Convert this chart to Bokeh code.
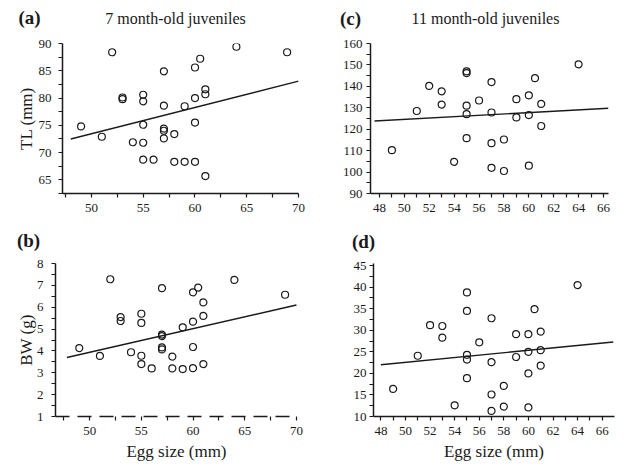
from bokeh.plotting import figure
from bokeh.layouts import row, column
from bokeh.models import FixedTicker, Label, Range1d
from bokeh.embed import file_html
from bokeh.resources import INLINE

FONT = "Liberation Serif"
INK = "#1a1a1a"

# ---------------- data ----------------
# (a) 7 month-old juveniles, total length
egg_a = [49, 51, 52, 53, 53, 54, 55, 55, 55, 55, 55, 56, 57, 57, 57, 57, 57,
         58, 58, 59, 59, 60, 60, 60, 60, 60.5, 61, 61, 61, 64, 68.9]
tl_a = [74.8, 72.9, 88.4, 80.1, 79.8, 71.9, 80.6, 79.4, 75.1, 71.8, 68.7, 68.7,
        84.9, 78.6, 74.4, 74.0, 72.6, 73.4, 68.3, 78.5, 68.3, 85.6, 80.0, 75.5,
        68.3, 87.2, 81.6, 80.7, 65.7, 89.4, 88.4]
fit_a_x = [48, 70]
fit_a_y = [72.5, 83.1]

# (b) 7 month-old juveniles, body weight
egg_b = [49, 51, 52, 53, 53, 54, 55, 55, 55, 55, 56, 57, 57, 57, 57, 57, 58, 58,
         59, 59, 60, 60, 60, 60, 60.5, 61, 61, 61, 64, 68.9]
bw_b = [4.13, 3.77, 7.28, 5.55, 5.37, 3.94, 5.7, 5.28, 3.78, 3.4, 3.2, 6.87,
        4.75, 4.68, 4.16, 4.07, 3.74, 3.2, 5.08, 3.17, 6.68, 5.34, 4.18, 3.21,
        6.9, 6.22, 5.6, 3.4, 7.25, 6.57]
fit_b_x = [47.8, 70]
fit_b_y = [3.7, 6.1]

# (c) 11 month-old juveniles, total length
egg_c = [49, 51, 52, 53, 53, 54, 55, 55, 55, 55, 55, 56, 57, 57, 57, 57, 58, 58,
         59, 59, 60, 60, 60, 60.5, 61, 61, 64]
tl_c = [110.2, 128.5, 140.2, 137.7, 131.5, 104.8, 147.0, 146.2, 131.0, 127.0,
        115.8, 133.4, 142.0, 127.8, 113.5, 102.0, 115.2, 100.5, 134.0, 125.5,
        135.8, 126.6, 103.0, 143.8, 131.8, 121.5, 150.3]
fit_c_x = [47.6, 66.4]
fit_c_y = [123.8, 129.8]

# (d) 11 month-old juveniles, body weight
egg_d = [49, 51, 52, 53, 53, 54, 55, 55, 55, 55, 55, 56, 57, 57, 57, 57, 58, 58,
         59, 59, 60, 60, 60, 60, 60.5, 61, 61, 61, 64]
bw_d = [16.4, 24.1, 31.2, 31.0, 28.3, 12.6, 38.8, 34.5, 24.3, 23.2, 18.9, 27.2,
        32.8, 22.6, 15.1, 11.3, 17.1, 12.3, 29.1, 23.8, 29.1, 25.0, 20.0, 12.1,
        34.9, 29.7, 25.4, 21.8, 40.5]
fit_d_x = [48, 66.9]
fit_d_y = [22.0, 27.3]

# tick values
xt_ab = [50, 55, 60, 65, 70]
xm_ab = [47.5, 52.5, 57.5, 62.5, 67.5]
yt_a = [65, 70, 75, 80, 85, 90]
ym_a = [62.5, 67.5, 72.5, 77.5, 82.5, 87.5]
yt_b = [1, 2, 3, 4, 5, 6, 7, 8]
ym_b = [1.5, 2.5, 3.5, 4.5, 5.5, 6.5, 7.5]
xt_cd = [48, 50, 52, 54, 56, 58, 60, 62, 64, 66]
xm_cd = [49, 51, 53, 55, 57, 59, 61, 63, 65]
yt_c = [90, 100, 110, 120, 130, 140, 150, 160]
ym_c = [95, 105, 115, 125, 135, 145, 155]
yt_d = [10, 15, 20, 25, 30, 35, 40, 45]
ym_d = [12.5, 17.5, 22.5, 27.5, 32.5, 37.5, 42.5]


def style_axis(ax, ticks, minor, standoff):
    ax.ticker = FixedTicker(ticks=ticks, minor_ticks=minor)
    ax.axis_line_color = INK
    ax.axis_line_width = 1.5
    ax.major_tick_line_color = INK
    ax.minor_tick_line_color = INK
    ax.major_tick_line_width = 1.2
    ax.minor_tick_line_width = 1.2
    ax.major_tick_in = 0
    ax.major_tick_out = 4
    ax.minor_tick_in = 0
    ax.minor_tick_out = 4
    ax.major_label_text_font = FONT
    ax.major_label_text_font_size = "13px"
    ax.major_label_text_color = INK
    ax.major_label_standoff = standoff
    ax.axis_label_text_font = FONT
    ax.axis_label_text_font_size = "17px"
    ax.axis_label_text_font_style = "normal"
    ax.axis_label_text_color = INK


def panel(w, h, bl, br, bt, bb, xr, yr, ex, ey, fx, fy,
          xt, xm, yt, ym, xstd, ystd, xlabel=None, ylabel=None, ylstd=0):
    p = figure(width=w, height=h, output_backend="svg", toolbar_location=None,
               x_range=Range1d(*xr), y_range=Range1d(*yr),
               min_border_left=bl, min_border_right=br,
               min_border_top=bt, min_border_bottom=bb)
    p.outline_line_color = None
    p.grid.visible = False
    style_axis(p.xaxis[0], xt, xm, xstd)
    style_axis(p.yaxis[0], yt, ym, ystd)
    if xlabel:
        p.xaxis[0].axis_label = xlabel
        p.xaxis[0].axis_label_standoff = 4
    if ylabel:
        p.yaxis[0].axis_label = ylabel
        p.yaxis[0].axis_label_standoff = ylstd
    p.line(fx, fy, line_color=INK, line_width=1.4)
    p.scatter(ex, ey, marker="circle", size=7, fill_color=None,
              line_color=INK, line_width=1.2)
    return p


def header(w, h, items):
    """A strip for panel letters and titles; 1 data unit = 1 pixel."""
    p = figure(width=w, height=h, output_backend="svg", toolbar_location=None,
               x_range=Range1d(0, w), y_range=Range1d(0, h),
               x_axis_type=None, y_axis_type=None,
               min_border=0, min_border_left=0, min_border_right=0,
               min_border_top=0, min_border_bottom=0)
    p.outline_line_color = None
    p.grid.visible = False
    for txt, x, y, size, bold in items:
        p.add_layout(Label(x=x, y=y, text=txt, text_font=FONT,
                           text_font_size=size,
                           text_font_style="bold" if bold else "normal",
                           text_color=INK, text_align="center",
                           text_baseline="middle"))
    return p


ha = header(330, 30, [("(a)", 29, 13, "19px", True),
                      ("7 month-old juveniles", 175, 12, "16px", False)])
hc = header(296, 30, [("(c)", 20, 12, "19px", True),
                      ("11 month-old juveniles", 155, 12, "16px", False)])
hb = header(330, 24, [("(b)", 28, 12, "19px", True)])
hd = header(296, 24, [("(d)", 33, 11, "19px", True)])

pa = panel(330, 198, 62, 32, 13, 34, (47.2, 70.0), (62.5, 90.0),
           egg_a, tl_a, fit_a_x, fit_a_y, xt_ab, xm_ab, yt_a, ym_a, 6, 7,
           ylabel="TL (mm)", ylstd=0)

pc = panel(296, 198, 40, 18, 13, 35, (47.28, 66.4), (90, 160),
           egg_c, tl_c, fit_c_x, fit_c_y, xt_cd, xm_cd, yt_c, ym_c, 6, 4)

pb = panel(330, 216, 55, 33, 11, 52, (46.7, 70.1), (1, 8),
           egg_b, bw_b, fit_b_x, fit_b_y, xt_ab, xm_ab, yt_b, ym_b, 6, 8,
           xlabel="Egg size (mm)", ylabel="BW (g)", ylstd=-2)
pb.xaxis[0].axis_line_dash = "14 8"

pd = panel(296, 216, 43, 12, 11, 52, (47.4, 67.0), (10, 45.5),
           egg_d, bw_d, fit_d_x, fit_d_y, xt_cd, xm_cd, yt_d, ym_d, 6, 3,
           xlabel="Egg size (mm)")

layout = column(row(ha, hc), row(pa, pc), row(hb, hd), row(pb, pd))
open("out.html", "w").write(file_html(layout, INLINE))
